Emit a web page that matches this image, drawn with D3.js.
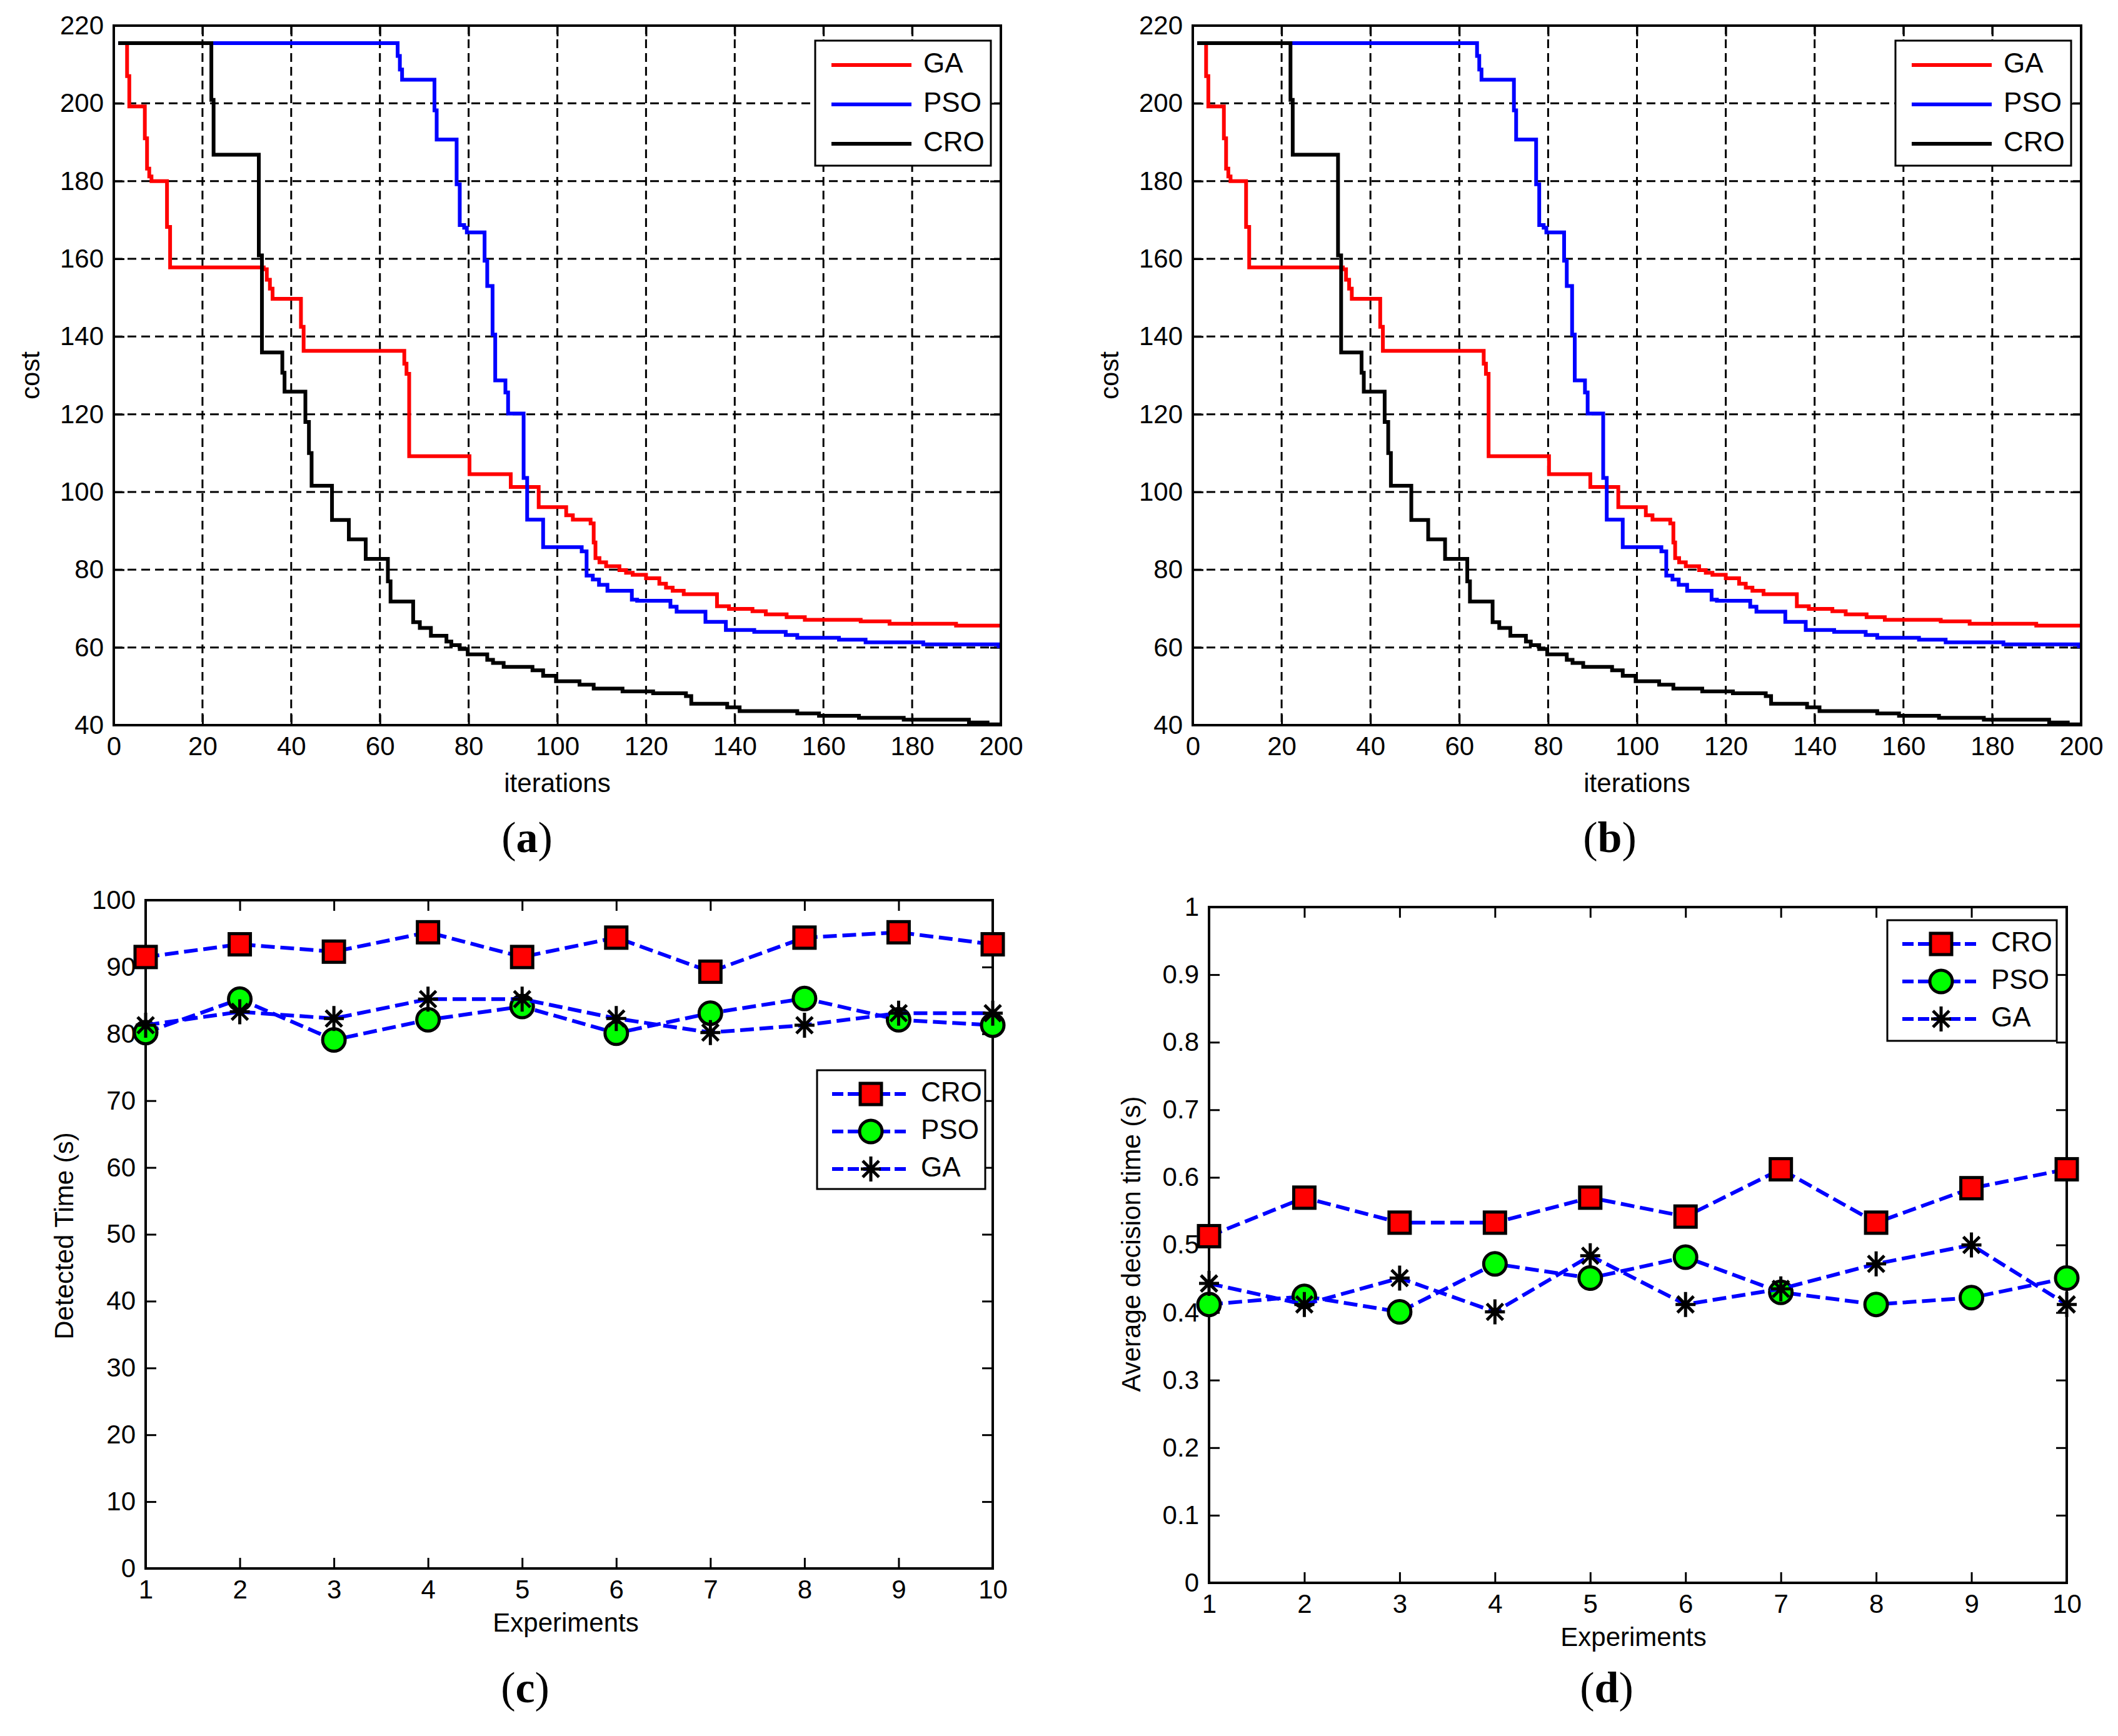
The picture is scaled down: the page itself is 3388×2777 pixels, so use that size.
<!DOCTYPE html>
<html>
<head>
<meta charset="utf-8">
<script src="https://cdn.jsdelivr.net/npm/d3@7"></script>
<style>
body { margin: 0; background: #fff; }
svg text { font-family: 'Liberation Sans Narrow', 'Liberation Sans', Arial, sans-serif; fill: #000; }
</style>
</head>
<body>
<svg id="fig" width="3388" height="2777"></svg>
<script>
// convergence curves, [iteration, cost] at each step change
var gaSteps = [[1,215.5],[3,207],[3.5,199.2],[7,191],[7.5,183.2],[8,181.2],[8.5,180],[12,168.2],[12.7,157.8],
    [33.8,157.3],[34.5,154.6],[35.2,152.3],[35.8,149.7],[42.2,142.5],[42.8,136.3],[65.5,133],[66,130.4],[66.6,109.2],
    [80.2,104.6],[89.5,101.3],[95.8,96.1],[102,94],[103.5,92.9],[107.5,91.9],[108.2,87],[108.6,83],[109.5,81.9],
    [111,80.9],[114,79.9],[115.5,79.2],[117,78.7],[120,77.8],[123,76.4],[124.5,75.4],[126,74.6],[128.5,73.7],
    [136,70.6],[138.7,69.9],[144,69.3],[147,68.5],[151.7,67.8],[155.8,67.1],[168.4,66.7],[174.9,66.1],[189.9,65.6],[200,65.6]];
var psoSteps = [[1,215.5],[64,212.2],[64.5,208.7],[65,206.1],[72.3,198.2],[72.8,190.7],[77.3,179.2],[78,168.7],[79,168],
    [79.6,166.8],[83.6,159.5],[84.2,153],[85.4,140.5],[86,128.7],[88.3,125.6],[88.9,120.2],[92.4,103.6],[93.2,92.9],
    [96.8,85.8],[105.5,84.7],[106.6,78.5],[108,77.5],[109.4,76.1],[111.3,74.6],[116.8,72.3],[118,72],[125.5,70.5],
    [126.9,69.2],[133.4,66.6],[138,64.5],[144.4,64],[151.5,63.2],[154.1,62.5],[163.5,62],[169.5,61.3],[182.5,60.8],
    [199.5,60.3],[200,60.3]];
var croSteps = [[1,215.5],[22,200.9],[22.5,186.8],[32.7,160.9],[33.4,135.9],[38,130.7],[38.5,125.8],[43.2,118],[44,110],
    [44.6,101.6],[49.2,92.8],[53,87.8],[56.8,82.8],[61.8,77],[62.4,71.8],[67.5,66.5],[69,65],[71.5,63],[75,61.5],
    [76.1,60.6],[78,59.6],[79.8,58.2],[84.2,56.8],[85.5,56],[87.9,55],[94.4,54.1],[96.8,52.7],[99.7,51.3],[105,50.4],
    [108.2,49.4],[114.7,48.7],[121.6,48.2],[129,47.5],[130.2,45.5],[138.3,44.6],[141.1,43.6],[154.1,43],[159,42.4],
    [168,41.9],[178.1,41.4],[192.8,40.7],[197,40.2],[200,40.2]];
var iterTicks = [0,20,40,60,80,100,120,140,160,180,200];
var costTicks = [40,60,80,100,120,140,160,180,200,220];

var experiments = [1,2,3,4,5,6,7,8,9,10];
var timeCRO = [91.5,93.4,92.3,95.2,91.5,94.4,89.3,94.4,95.2,93.4];
var timePSO = [80.2,85.2,79.1,82.1,84.1,80.1,83.1,85.3,82.1,81.3];
var timeGA  = [81.3,83.3,82.3,85.2,85.2,82.3,80.2,81.3,83.1,83.1];
var timeTicks = [0,10,20,30,40,50,60,70,80,90,100];

var decCRO = [0.513,0.570,0.533,0.533,0.570,0.542,0.612,0.533,0.584,0.612];
var decPSO = [0.412,0.424,0.401,0.472,0.451,0.482,0.430,0.412,0.422,0.451];
var decGA  = [0.443,0.412,0.451,0.401,0.484,0.412,0.435,0.472,0.500,0.412];
var decTicks = [0,0.1,0.2,0.3,0.4,0.5,0.6,0.7,0.8,0.9,1];

var svg = d3.select("#fig");
var tickLen = 17;

var makeFrame = function(box, xDom, yDom, xTicks, yTicks, grid, xFmt, yFmt) {
    var g = svg.append("g");
    var x = d3.scaleLinear().domain(xDom).range([box.left, box.right]);
    var y = d3.scaleLinear().domain(yDom).range([box.bottom, box.top]);

    if (grid) {
        g.selectAll(".vgrid").data(xTicks.slice(1, -1)).enter().append("line")
            .attr("x1", function(d) { return x(d); }).attr("x2", function(d) { return x(d); })
            .attr("y1", box.top).attr("y2", box.bottom)
            .attr("stroke", "#000").attr("stroke-width", 3).attr("stroke-dasharray", "14,8");
        g.selectAll(".hgrid").data(yTicks.slice(1, -1)).enter().append("line")
            .attr("y1", function(d) { return y(d); }).attr("y2", function(d) { return y(d); })
            .attr("x1", box.left).attr("x2", box.right)
            .attr("stroke", "#000").attr("stroke-width", 3).attr("stroke-dasharray", "14,8");
    }

    var axes = [
        g.append("g").attr("transform", "translate(0," + box.bottom + ")")
            .call(d3.axisBottom(x).tickValues(xTicks).tickSizeInner(-tickLen).tickSizeOuter(0).tickPadding(18).tickFormat(xFmt)),
        g.append("g").attr("transform", "translate(" + box.left + ",0)")
            .call(d3.axisLeft(y).tickValues(yTicks).tickSizeInner(-tickLen).tickSizeOuter(0).tickPadding(16).tickFormat(yFmt)),
        g.append("g").attr("transform", "translate(0," + box.top + ")")
            .call(d3.axisTop(x).tickValues(xTicks).tickSizeInner(-tickLen).tickSizeOuter(0).tickFormat("")),
        g.append("g").attr("transform", "translate(" + box.right + ",0)")
            .call(d3.axisRight(y).tickValues(yTicks).tickSizeInner(-tickLen).tickSizeOuter(0).tickFormat(""))
    ];
    axes.forEach(function(a) {
        a.attr("font-family", null).attr("font-size", 42);
        a.select(".domain").remove();
        a.selectAll(".tick line").attr("stroke", "#000").attr("stroke-width", 3);
    });
    return {g: g, x: x, y: y, box: box};
};

var frameBorder = function(p) {
    p.g.append("rect")
        .attr("x", p.box.left).attr("y", p.box.top)
        .attr("width", p.box.right - p.box.left).attr("height", p.box.bottom - p.box.top)
        .attr("fill", "none").attr("stroke", "#000").attr("stroke-width", 4);
};

var axisTitles = function(p, xt, yt, xPos, yPos) {
    p.g.append("text").attr("x", xPos[0]).attr("y", xPos[1])
        .attr("text-anchor", "middle").attr("dominant-baseline", "middle")
        .attr("font-size", 42).text(xt);
    p.g.append("text")
        .attr("transform", "translate(" + yPos[0] + "," + yPos[1] + ") rotate(-90)")
        .attr("text-anchor", "middle").attr("dominant-baseline", "middle")
        .attr("font-size", 42).text(yt);
};

var panelLabel = function(letter, cx, cy) {
    var t = svg.append("text").attr("x", cx).attr("y", cy)
        .attr("text-anchor", "middle").attr("dominant-baseline", "middle")
        .style("font-family", "'Liberation Serif', 'DejaVu Serif', serif").attr("font-size", 70);
    t.append("tspan").text("(");
    t.append("tspan").attr("font-weight", "bold").text(letter);
    t.append("tspan").text(")");
};

// ---------- (a) and (b): convergence ----------
var convSeries = [
    {name: "GA", steps: gaSteps, color: "#ff0000"},
    {name: "PSO", steps: psoSteps, color: "#0000ff"},
    {name: "CRO", steps: croSteps, color: "#000000"}
];

var drawConvergence = function(box, letter, labelX, legendRight) {
    var p = makeFrame(box, [0, 200], [40, 220], iterTicks, costTicks, true, d3.format("d"), d3.format("d"));
    var line = d3.line()
        .x(function(d) { return p.x(d[0]); })
        .y(function(d) { return p.y(d[1]); })
        .curve(d3.curveStepAfter);
    convSeries.forEach(function(s) {
        p.g.append("path").datum(s.steps)
            .attr("d", line).attr("fill", "none")
            .attr("stroke", s.color).attr("stroke-width", 6);
    });
    frameBorder(p);

    // legend
    var lg = p.g.append("g");
    var lx = legendRight - 281, ly = 65;
    lg.append("rect").attr("x", lx).attr("y", ly).attr("width", 281).attr("height", 200)
        .attr("fill", "#fff").attr("stroke", "#000").attr("stroke-width", 3);
    convSeries.forEach(function(s, i) {
        var yy = ly + 39 + i * 63;
        lg.append("line").attr("x1", lx + 26).attr("x2", lx + 154).attr("y1", yy).attr("y2", yy)
            .attr("stroke", s.color).attr("stroke-width", 6);
        lg.append("text").attr("x", lx + 173).attr("y", yy).attr("dominant-baseline", "middle")
            .attr("font-size", 44).text(s.name);
    });

    axisTitles(p, "iterations", "cost", [(box.left + box.right) / 2, 1256], [box.left - 130, (box.top + box.bottom) / 2]);
    panelLabel(letter, labelX, 1347);
};

drawConvergence({left: 182, right: 1601, top: 41, bottom: 1160}, "a", 843, 1585);
drawConvergence({left: 1908, right: 3329, top: 41, bottom: 1160}, "b", 2575, 3313);

// ---------- (c) and (d): experiments ----------
var drawMarker = function(g, type, cx, cy) {
    if (type == "square") {
        g.append("rect").attr("x", cx - 17).attr("y", cy - 17).attr("width", 34).attr("height", 34)
            .attr("fill", "#ff0000").attr("stroke", "#000").attr("stroke-width", 5);
    } else if (type == "circle") {
        g.append("circle").attr("cx", cx).attr("cy", cy).attr("r", 18)
            .attr("fill", "#00ff00").attr("stroke", "#000").attr("stroke-width", 5);
    } else {
        var d = "M" + cx + "," + (cy - 20) + "V" + (cy + 20) +
            "M" + (cx - 16) + "," + cy + "H" + (cx + 16) +
            "M" + (cx - 13) + "," + (cy - 13) + "L" + (cx + 13) + "," + (cy + 13) +
            "M" + (cx - 13) + "," + (cy + 13) + "L" + (cx + 13) + "," + (cy - 13);
        g.append("path").attr("d", d).attr("stroke", "#000").attr("stroke-width", 5).attr("fill", "none");
    }
};

var drawExperiments = function(box, yDom, yTicks, yFmt, series, legend, titles, letter, labelPos) {
    var p = makeFrame(box, [1, 10], yDom, experiments, yTicks, false, d3.format("d"), yFmt);
    frameBorder(p);
    var line = d3.line()
        .x(function(d, i) { return p.x(experiments[i]); })
        .y(function(d) { return p.y(d); });
    series.forEach(function(s) {
        var sg = p.g.append("g");
        sg.append("path").datum(s.values).attr("d", line).attr("fill", "none")
            .attr("stroke", "#0000ff").attr("stroke-width", 6).attr("stroke-dasharray", "22,9");
        s.values.forEach(function(v, i) {
            drawMarker(sg, s.marker, p.x(experiments[i]), p.y(v));
        });
    });

    var lg = p.g.append("g");
    lg.append("rect").attr("x", legend.x).attr("y", legend.y).attr("width", legend.w).attr("height", legend.h)
        .attr("fill", "#fff").attr("stroke", "#000").attr("stroke-width", 3);
    series.forEach(function(s, i) {
        var yy = legend.y + 38 + i * 60;
        lg.append("line").attr("x1", legend.x + 24).attr("x2", legend.x + 142).attr("y1", yy).attr("y2", yy)
            .attr("stroke", "#0000ff").attr("stroke-width", 6).attr("stroke-dasharray", "18,7");
        drawMarker(lg, s.marker, legend.x + 86, yy);
        lg.append("text").attr("x", legend.x + 166).attr("y", yy).attr("dominant-baseline", "middle")
            .attr("font-size", 44).text(s.name);
    });

    axisTitles(p, "Experiments", titles[1], titles[2], titles[3]);
    panelLabel(letter, labelPos[0], labelPos[1]);
};

drawExperiments({left: 233, right: 1588, top: 1440, bottom: 2509}, [0, 100], timeTicks, d3.format("d"),
    [{name: "CRO", values: timeCRO, marker: "square"},
     {name: "PSO", values: timePSO, marker: "circle"},
     {name: "GA", values: timeGA, marker: "star"}],
    {x: 1307, y: 1712, w: 269, h: 190},
    [null, "Detected Time (s)", [905, 2599], [106, 1977]],
    "c", [840, 2707]);

drawExperiments({left: 1934, right: 3306, top: 1451, bottom: 2532}, [0, 1], decTicks, function(d) { return d3.format("")(+d.toFixed(1)); },
    [{name: "CRO", values: decCRO, marker: "square"},
     {name: "PSO", values: decPSO, marker: "circle"},
     {name: "GA", values: decGA, marker: "star"}],
    {x: 3019, y: 1472, w: 271, h: 193},
    [null, "Average decision time (s)", [2613, 2622], [1813, 1990]],
    "d", [2570, 2707]);
</script>
</body>
</html>
